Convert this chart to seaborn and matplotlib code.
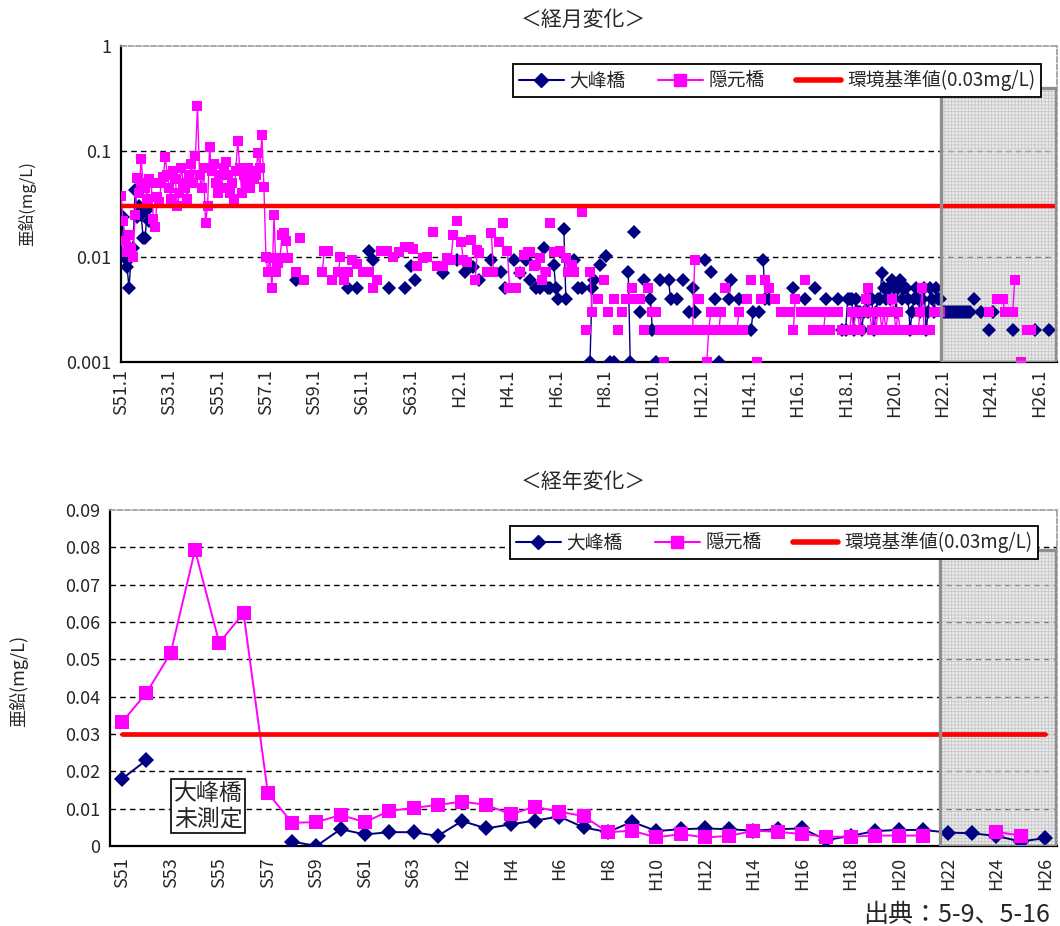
import numpy as np
import pandas as pd
import matplotlib
matplotlib.use("Agg")
import matplotlib.pyplot as plt
from matplotlib.lines import Line2D
from matplotlib.patches import Rectangle
import seaborn as sns

# ---------------------------------------------------------------- data
# Monthly values (mg/L); month index counted from S51.1 (Jan 1976)
N_MONTHS = 466
month_tick_labels = ["S51.1", "S53.1", "S55.1", "S57.1", "S59.1", "S61.1", "S63.1",
                     "H2.1", "H4.1", "H6.1", "H8.1", "H10.1", "H12.1", "H14.1",
                     "H16.1", "H18.1", "H20.1", "H22.1", "H24.1", "H26.1"]

# 大峰橋 (Ohmine bridge)
ohmine_early_start = 0
ohmine_early = [0.011, 0.024, 0.0098, 0.008, 0.005, 0.010, 0.012, 0.043, 0.024,
                0.030, 0.025, 0.015, 0.015, 0.028, 0.022]
ohmine_sparse_m = [87, 113, 117, 123, 125, 133, 141, 144, 146, 160, 167, 171, 175,
                   178, 184, 189, 191, 195, 198, 201, 203, 206, 208, 210, 212, 213,
                   215, 216, 217, 220, 221, 225, 227, 229, 233, 234, 235, 238, 241,
                   243, 245, 252, 253, 255, 258, 260, 263, 264, 266, 268, 272, 273,
                   276, 279, 282, 284, 285, 290, 293, 295, 297, 302, 303, 307, 313,
                   314, 317, 319, 320, 322, 334, 340, 345, 350, 356, 358]
ohmine_sparse_v = [0.006, 0.005, 0.005, 0.0114, 0.0092, 0.005, 0.005, 0.0082, 0.006,
                   0.007, 0.0093, 0.0072, 0.008, 0.006, 0.0092, 0.0072, 0.005, 0.0092,
                   0.007, 0.0092, 0.006, 0.005, 0.005, 0.0122, 0.005, 0.005, 0.0084,
                   0.005, 0.004, 0.0185, 0.004, 0.0092, 0.005, 0.005, 0.001, 0.005,
                   0.006, 0.0084, 0.0101, 0.001, 0.001, 0.0072, 0.001, 0.0172, 0.003,
                   0.006, 0.004, 0.002, 0.001, 0.006, 0.006, 0.004, 0.004, 0.006,
                   0.003, 0.005, 0.003, 0.0092, 0.0072, 0.004, 0.001, 0.004, 0.006,
                   0.004, 0.002, 0.003, 0.003, 0.0093, 0.004, 0.004, 0.005, 0.004,
                   0.005, 0.004, 0.004, 0.002]
ohmine_late_start = 360
ohmine_late = [0.002, 0.004, 0.004, 0.004, 0.002, 0.004, 0.003, 0.003, 0.002, 0.003,
               0.004, 0.003, 0.004, 0.004, 0.002, 0.003, 0.004, 0.004, 0.007, 0.005,
               0.004, 0.005, 0.004, 0.006, 0.005, 0.003, 0.005, 0.006, 0.004, 0.005,
               0.005, 0.004, 0.002, 0.003, 0.004, 0.005, 0.004, 0.003, 0.004, 0.005,
               0.002, 0.003, 0.005, 0.004, 0.003, 0.005, 0.004, 0.004,
               0.003, 0.003, 0.003, 0.003, 0.003, 0.003, 0.003, 0.003, 0.003, 0.003,
               0.003, 0.003, 0.003, 0.003, 0.003]
ohmine_recent_m = [424, 427, 431, 433, 443, 454, 461]
ohmine_recent_v = [0.004, 0.003, 0.002, 0.003, 0.002, 0.002, 0.002]

# 隠元橋 (Ingen bridge)
ingen_early_start = 0
ingen_early = [0.038, 0.022, 0.014, 0.011, 0.016, 0.012, 0.010, 0.025, 0.056, 0.040, 0.084, 0.050,
               0.045, 0.035, 0.055, 0.050, 0.023, 0.019, 0.037, 0.033, 0.050, 0.057, 0.088, 0.060,
               0.045, 0.035, 0.065, 0.055, 0.030, 0.040, 0.070, 0.050, 0.045, 0.035, 0.060, 0.075,
               0.050, 0.090, 0.270, 0.060, 0.045, 0.070, 0.021, 0.030, 0.110, 0.065, 0.075, 0.050,
               0.040, 0.060, 0.045, 0.070, 0.080, 0.060, 0.040, 0.050, 0.035, 0.065, 0.125, 0.070,
               0.040, 0.060, 0.050, 0.070, 0.045, 0.065, 0.055, 0.060, 0.097, 0.070, 0.143, 0.046,
               0.010, 0.0072, 0.0098, 0.005, 0.025, 0.0072, 0.0088, 0.0098, 0.016, 0.0166, 0.014, 0.0098]
ingen_sparse_m = [87, 89, 91, 100, 101, 103, 105, 108, 109, 111, 113, 115, 117, 120, 123,
                  125, 127, 129, 132, 135, 138, 141, 143, 145, 147, 150, 152, 155, 157,
                  160, 162, 164, 165, 167, 169, 170, 172, 174, 176, 177, 178, 182, 184,
                  185, 188, 190, 192, 193, 195, 196, 198, 200, 202, 203, 205, 206, 208,
                  209, 211, 213, 215, 216, 218, 221, 222, 224, 225, 229, 231, 233, 234,
                  237, 240, 242, 245, 247, 249, 251, 254, 256, 258, 260, 262, 264, 266,
                  268, 270, 272, 274, 276, 278, 280, 282, 284, 285, 287, 289, 291, 292,
                  293, 295, 297, 298, 300, 302, 304, 306, 307, 309, 311, 313, 316, 318,
                  320, 322, 325, 328, 330, 332, 334, 335, 338, 340, 342, 344, 345, 347,
                  349, 350, 352, 354, 356]
ingen_sparse_v = [0.0072, 0.0149, 0.006, 0.0072, 0.0113, 0.0113, 0.006, 0.0072, 0.010, 0.006,
                  0.0072, 0.0092, 0.0085, 0.0072, 0.0072, 0.005, 0.006, 0.0113, 0.0113, 0.010,
                  0.011, 0.0124, 0.0124, 0.0118, 0.0082, 0.0098, 0.010, 0.0172, 0.0082, 0.0082,
                  0.0098, 0.0092, 0.016, 0.022, 0.0139, 0.0092, 0.0089, 0.0144, 0.006, 0.0115,
                  0.0108, 0.0072, 0.0166, 0.0072, 0.0139, 0.021, 0.0113, 0.005, 0.005, 0.005,
                  0.0072, 0.0103, 0.011, 0.011, 0.0082, 0.0084, 0.0098, 0.006, 0.0072, 0.021,
                  0.011, 0.011, 0.0113, 0.0098, 0.0072, 0.0084, 0.0072, 0.0263, 0.002, 0.0072,
                  0.003, 0.004, 0.006, 0.003, 0.004, 0.002, 0.003, 0.004, 0.005, 0.004,
                  0.004, 0.002, 0.005, 0.003, 0.003, 0.002, 0.001, 0.002, 0.002, 0.002,
                  0.002, 0.002, 0.002, 0.002, 0.0092, 0.004, 0.002, 0.001, 0.002, 0.003,
                  0.002, 0.002, 0.003, 0.005, 0.002, 0.002, 0.002, 0.003, 0.002, 0.004,
                  0.006, 0.001, 0.004, 0.006, 0.005, 0.004, 0.003, 0.003, 0.003, 0.002,
                  0.004, 0.003, 0.006, 0.003, 0.002, 0.002, 0.003, 0.002, 0.003, 0.002,
                  0.003, 0.003]
ingen_late_start = 358
ingen_late = [0.002, None, 0.002, 0.002, 0.002, 0.003, 0.002, 0.003, 0.003, 0.002,
              0.003, 0.003, 0.004, 0.005, 0.003, 0.002, 0.003, 0.002, 0.003, 0.003,
              0.002, 0.003, 0.002, 0.003, 0.003, 0.004, 0.003, 0.002, 0.003, 0.002,
              0.002, 0.002, 0.002, 0.002, 0.002, 0.002, 0.002, 0.002, 0.002, 0.003,
              0.005, 0.002, 0.002, 0.002, 0.002, None, 0.003, 0.003, 0.003, 0.003]
ingen_recent_m = [431, 435, 436, 437, 438, 439, 441, 443, 444, 447, 450, 452]
ingen_recent_v = [0.003, 0.004, 0.004, 0.004, 0.004, 0.003, 0.003, 0.003, 0.006, 0.001,
                  0.002, 0.002]

# Annual values (mg/L)
years = ["S51", "S52", "S53", "S54", "S55", "S56", "S57", "S58", "S59", "S60", "S61",
         "S62", "S63", "H1", "H2", "H3", "H4", "H5", "H6", "H7", "H8", "H9", "H10",
         "H11", "H12", "H13", "H14", "H15", "H16", "H17", "H18", "H19", "H20", "H21",
         "H22", "H23", "H24", "H25", "H26"]
ohmine_year = [0.018, 0.023, None, None, None, None, None, 0.0012, 0.0, 0.0045, 0.0031,
               0.0037, 0.0037, 0.0027, 0.0067, 0.0047, 0.0058, 0.0068, 0.0079, 0.005,
               0.0037, 0.0065, 0.004, 0.0045, 0.0047, 0.0045, 0.0041, 0.0045, 0.0047,
               0.0016, 0.0027, 0.004, 0.0043, 0.0043, 0.0036, 0.0034, 0.0027, 0.0012, 0.0021]
ingen_year = [0.0332, 0.041, 0.0517, 0.0793, 0.0544, 0.0624, 0.0142, 0.0062, 0.0064,
              0.0083, 0.0064, 0.0094, 0.0102, 0.011, 0.0119, 0.011, 0.0085, 0.0105,
              0.0092, 0.008, 0.0037, 0.0041, 0.0023, 0.0032, 0.0023, 0.0027, 0.0041,
              0.0038, 0.0032, 0.0025, 0.0025, 0.0028, 0.0028, 0.0028, None, None,
              0.0038, 0.0028, None]

STANDARD = 0.03
STANDARD_LABEL = "環境基準値(0.03mg/L)"
NAMES = ["大峰橋", "隠元橋"]
FORECAST_START_MONTH = 407.5   # H22.1
FORECAST_START_YEAR = 33.7     # H22

NAVY, MAGENTA, RED = "#000080", "#FF00FF", "#FF0000"

# ---------------------------------------------------------------- helpers
def frame(parts):
    months, vals = [], []
    for ms, vs in parts:
        months += list(ms)
        vals += list(vs)
    rows, seg, prev = [], 0, None
    for m, v in zip(months, vals):
        if v is None:
            prev = None
            continue
        if prev is None or m != prev + 1:
            seg += 1
        rows.append((m, v, seg))
        prev = m
    return pd.DataFrame(rows, columns=["x", "v", "seg"])


def draw(ax, df, color, marker, ms, lw, z=3):
    sns.lineplot(data=df, x="x", y="v", units="seg", estimator=None, sort=False,
                 color=color, marker=marker, markersize=ms, markeredgecolor=color,
                 markeredgewidth=0, linewidth=lw, ax=ax, legend=False, zorder=z)


oh_m = frame([(range(ohmine_early_start, ohmine_early_start + len(ohmine_early)), ohmine_early),
              (ohmine_sparse_m, ohmine_sparse_v),
              (range(ohmine_late_start, ohmine_late_start + len(ohmine_late)), ohmine_late),
              (ohmine_recent_m, ohmine_recent_v)])
ig_m = frame([(range(ingen_early_start, ingen_early_start + len(ingen_early)), ingen_early),
              (ingen_sparse_m, ingen_sparse_v),
              (range(ingen_late_start, ingen_late_start + len(ingen_late)), ingen_late),
              (ingen_recent_m, ingen_recent_v)])
std_m = pd.DataFrame({"x": np.arange(N_MONTHS), "v": STANDARD})

oh_y = frame([(range(len(years)), ohmine_year)])
ig_y = frame([(range(len(years)), ingen_year)])
std_y = pd.DataFrame({"x": np.arange(len(years)), "v": STANDARD})

# ---------------------------------------------------------------- style
sns.set_theme(style="white")
plt.rcParams["font.family"] = ["Noto Sans CJK JP", "DejaVu Sans"]
plt.rcParams["hatch.linewidth"] = 0.6
plt.rcParams["axes.unicode_minus"] = False

fig = plt.figure(figsize=(10.6, 9.26), dpi=100)
ax1 = fig.add_axes([121 / 1060, 1 - 362 / 926, 936 / 1060, 316 / 926])
ax2 = fig.add_axes([110 / 1060, 1 - 846 / 926, 947 / 1060, 336 / 926])

TICK_FS = 13


def frame_axes(ax):
    for s in ("left", "bottom"):
        ax.spines[s].set_color("black")
        ax.spines[s].set_linewidth(1.6)
    for s in ("top", "right"):
        ax.spines[s].set_color("#9a9a9a")
        ax.spines[s].set_linewidth(1.2)
        ax.spines[s].set_linestyle((0, (3, 1.5)))
    ax.set_facecolor("white")


def shade(ax, x0, x1, y0, y1):
    ax.add_patch(Rectangle((x0, y0), x1 - x0, y1 - y0, facecolor=(0.86, 0.86, 0.86, 0.5),
                           edgecolor=(0.74, 0.74, 0.74, 0.8), hatch="+++++",
                           linewidth=0, zorder=2.5))
    ax.add_patch(Rectangle((x0, y0), x1 - x0, y1 - y0, fill=False,
                           edgecolor="#8f8f8f", linewidth=2.4, zorder=7))


def legend(ax, anchor, fs):
    handles = [Line2D([], [], color=NAVY, marker="D", markersize=7, lw=1.5),
               Line2D([], [], color=MAGENTA, marker="s", markersize=8, lw=1.5),
               Line2D([], [], color=RED, lw=4)]
    lg = ax.legend(handles, NAMES + [STANDARD_LABEL], ncol=3, loc="upper right",
                   bbox_to_anchor=anchor, bbox_transform=fig.transFigure,
                   frameon=True, fancybox=False, edgecolor="black", framealpha=1,
                   fontsize=fs, handlelength=2.4, handletextpad=0.3,
                   columnspacing=1.7, borderpad=0.3)
    lg.get_frame().set_linewidth(1.3)
    lg.set_zorder(10)


# ---------------------------------------------------------------- monthly
frame_axes(ax1)
ax1.set_yscale("log")
draw(ax1, oh_m, NAVY, "D", 7.6, 1.0, z=3)
draw(ax1, ig_m, MAGENTA, "s", 7.4, 1.0, z=4)
sns.lineplot(data=std_m, x="x", y="v", color=RED, linewidth=3.2, ax=ax1,
             legend=False, zorder=5)
ax1.set_xlim(0, N_MONTHS - 1)
ax1.set_ylim(0.001, 1)
yt1 = [0.001, 0.01, 0.1, 1]
ax1.set_yticks(yt1)
ax1.set_yticklabels(["0.001", "0.01", "0.1", "1"], fontsize=TICK_FS)
ax1.yaxis.set_minor_locator(matplotlib.ticker.NullLocator())
for t in yt1[1:-1]:
    ax1.axhline(t, color="black", lw=1.0, ls=(0, (4, 3)), zorder=1)
ax1.set_xticks(np.arange(len(month_tick_labels)) * 24)
ax1.set_xticklabels(month_tick_labels, rotation=90, fontsize=TICK_FS)
ax1.tick_params(axis="x", direction="in", length=5, width=1.2, color="black", pad=5)
ax1.tick_params(axis="y", direction="out", length=4, width=1.2, color="black", pad=3)
ax1.set_xlabel("")
ax1.set_ylabel("亜鉛(mg/L)", fontsize=12)
ax1.yaxis.set_label_coords(-0.091, 0.5)
shade(ax1, FORECAST_START_MONTH, N_MONTHS - 1.5, 0.001, 0.4)
legend(ax1, (1050 / 1060, 1 - 55 / 926), 13.5)
fig.text(583 / 1060, 1 - 20 / 926, "＜経月変化＞", ha="center", va="center", fontsize=15)

# ---------------------------------------------------------------- annual
frame_axes(ax2)
draw(ax2, oh_y, NAVY, "D", 8, 1.4, z=3)
draw(ax2, ig_y, MAGENTA, "s", 9.5, 1.4, z=4)
sns.lineplot(data=std_y, x="x", y="v", color=RED, linewidth=3.4, ax=ax2,
             legend=False, zorder=5)
ax2.set_xlim(-0.5, len(years) - 0.5)
ax2.set_ylim(0, 0.09)
yt2 = np.round(np.arange(0, 0.091, 0.01), 2)
ax2.set_yticks(yt2)
ax2.set_yticklabels(["0" if v == 0 else f"{v:.2f}" for v in yt2], fontsize=TICK_FS)
for t in yt2[1:-1]:
    ax2.axhline(t, color="black", lw=1.0, ls=(0, (4, 3)), zorder=1)
ax2.set_xticks(np.arange(0, len(years), 2))
ax2.set_xticklabels(years[::2], rotation=90, fontsize=TICK_FS)
ax2.set_xticks(np.arange(len(years) - 1) + 0.5, minor=True)
ax2.tick_params(axis="x", which="major", length=0, pad=8)
ax2.tick_params(axis="x", which="minor", direction="in", length=5, width=1.2, color="black")
ax2.tick_params(axis="y", direction="out", length=4, width=1.2, color="black", pad=3)
ax2.set_xlabel("")
ax2.set_ylabel("亜鉛(mg/L)", fontsize=13)
ax2.yaxis.set_label_coords(-0.086, 0.49)
shade(ax2, FORECAST_START_YEAR, len(years) - 0.55, 0, 0.0793)
legend(ax2, (1047 / 1060, 1 - 517 / 926), 13.5)
fig.text(583 / 1060, 1 - 482 / 926, "＜経年変化＞", ha="center", va="center", fontsize=15)

ax2.text(0.1035, 0.119, "大峰橋\n未測定", transform=ax2.transAxes, ha="center",
         va="center", fontsize=16.5, linespacing=1.15, zorder=8,
         bbox=dict(boxstyle="square,pad=0.12", facecolor="white", edgecolor="black", lw=1.2))

fig.text(1050 / 1060, 1 - 915 / 926, "出典：5-9、5-16", ha="right", va="center", fontsize=18)

fig.savefig("out.png", dpi=100, facecolor="white")
